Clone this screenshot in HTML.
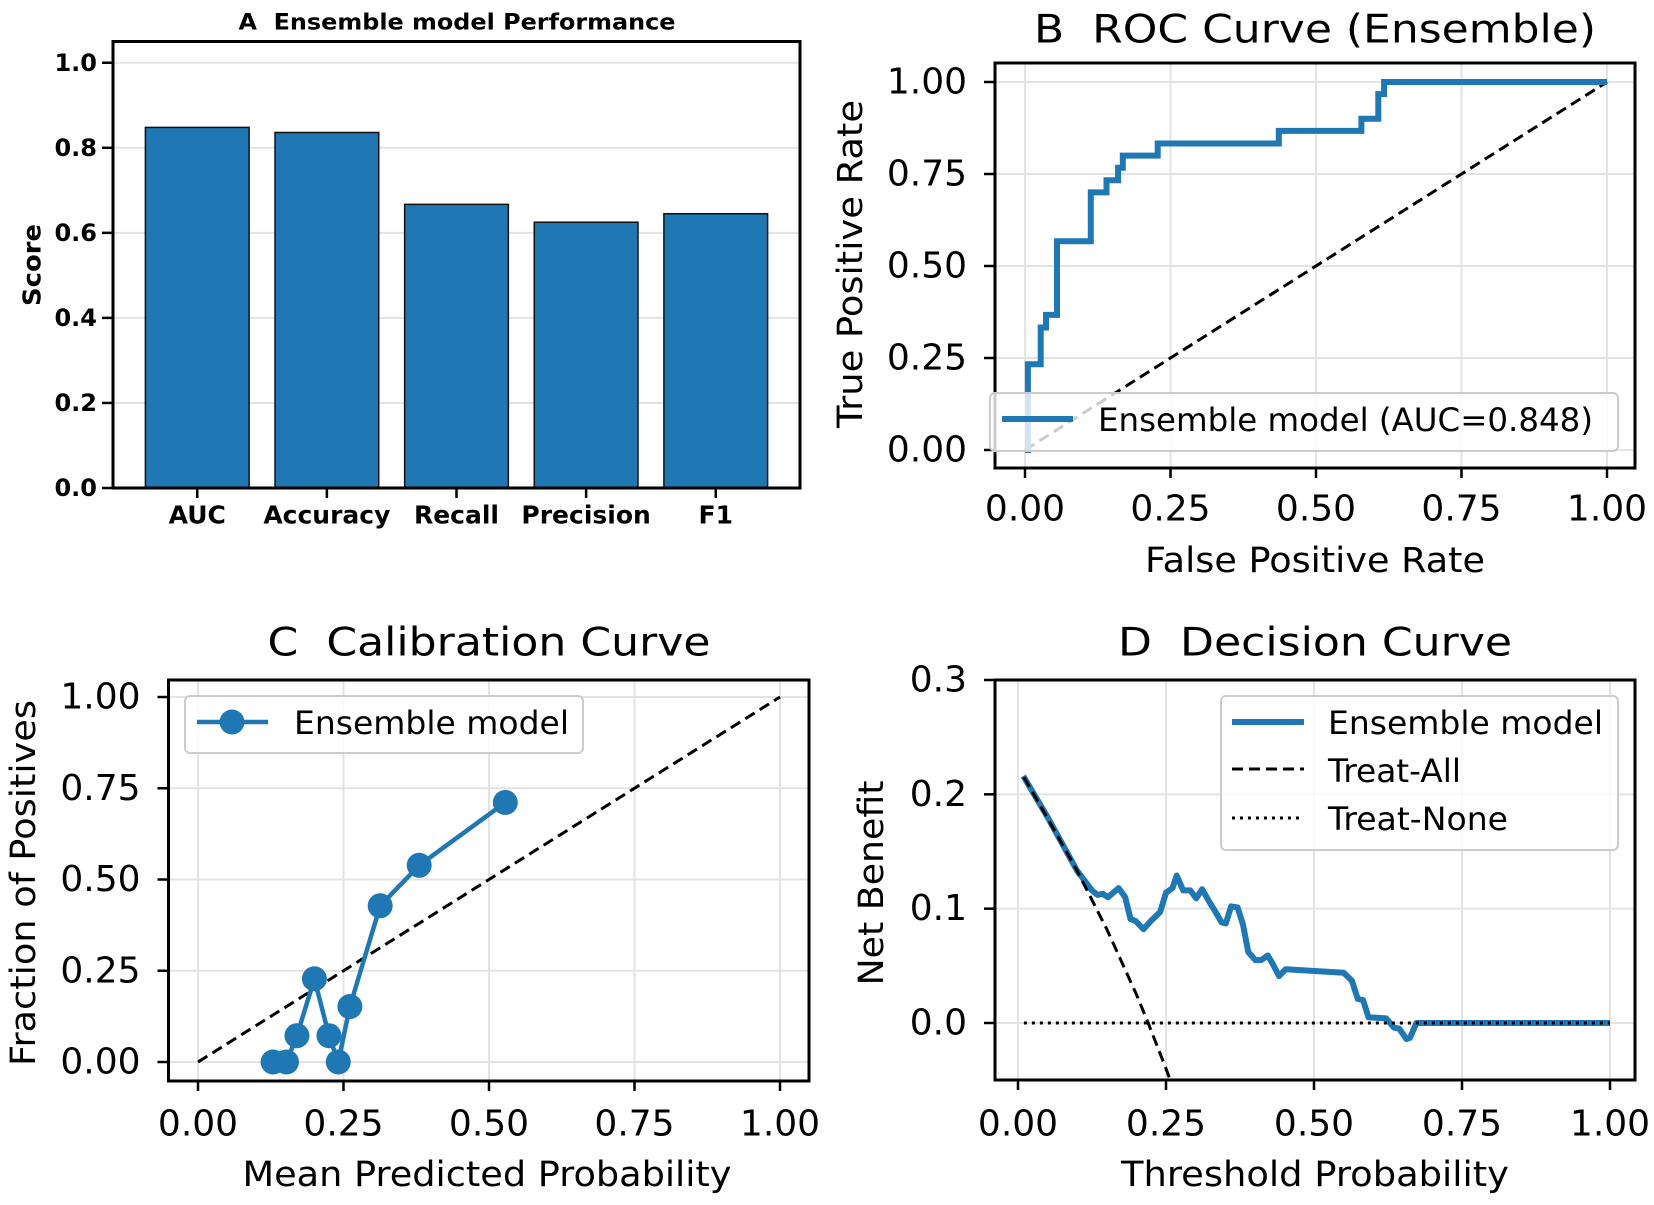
<!DOCTYPE html>
<html><head><meta charset="utf-8"><style>
html,body{margin:0;padding:0;background:#fff;}
svg{display:block;font-family:"DejaVu Sans","Liberation Sans",sans-serif;}
text{white-space:pre;}
</style></head><body>
<svg id="fig" width="1654" height="1205" viewBox="0 0 1654 1205" xmlns="http://www.w3.org/2000/svg"></svg>
<script>
// ---- Panel A data ----
const barCats = ["AUC","Accuracy","Recall","Precision","F1"];
const barVals = [0.848,0.836,0.667,0.625,0.645];
const aTicks = [0.0,0.2,0.4,0.6,0.8,1.0];
// ---- Panel B data ----
const rocFpr = [0,0.005,0.005,0.027,0.027,0.036,0.036,0.055,0.055,0.113,0.113,0.14,0.14,0.16,0.16,0.168,0.168,0.228,0.228,0.436,0.436,0.578,0.578,0.607,0.607,0.617,0.617,1.0];
const rocTpr = [0,0,0.233,0.233,0.333,0.333,0.367,0.367,0.567,0.567,0.70,0.70,0.733,0.733,0.767,0.767,0.80,0.80,0.833,0.833,0.867,0.867,0.90,0.90,0.967,0.967,1.0,1.0];
const unitTicks = [0,0.25,0.5,0.75,1.0];
const unitTickLabels = ["0.00","0.25","0.50","0.75","1.00"];
// ---- Panel C data ----
const calX = [0.129,0.152,0.170,0.200,0.225,0.241,0.261,0.313,0.380,0.528];
const calY = [0,0,0.072,0.228,0.072,0,0.152,0.428,0.539,0.711];
// ---- Panel D data ----
const dcaT = [0.009,0.05,0.10,0.125,0.134,0.143,0.152,0.170,0.181,0.190,0.199,0.212,0.224,0.240,0.250,0.261,0.268,0.279,0.291,0.301,0.311,0.322,0.335,0.344,0.351,0.360,0.371,0.380,0.389,0.401,0.411,0.422,0.431,0.441,0.452,0.550,0.564,0.574,0.583,0.592,0.622,0.635,0.644,0.656,0.662,0.673,1.0];
const dcaNB = [0.216,0.180,0.133,0.116,0.112,0.113,0.110,0.118,0.110,0.091,0.089,0.082,0.089,0.097,0.114,0.118,0.129,0.116,0.116,0.109,0.117,0.107,0.096,0.088,0.087,0.102,0.101,0.086,0.062,0.055,0.055,0.059,0.051,0.041,0.047,0.044,0.037,0.021,0.020,0.005,0.004,-0.004,-0.005,-0.014,-0.013,0,0];
const allT = [0.01,0.05,0.10,0.15,0.20,0.22,0.25,0.26];
const allNB = [0.215,0.179,0.133,0.082,0.025,0.0,-0.040,-0.054];
const noneT = [0.01,1.0];
const noneNB = [0,0];
const dTicksY = [0,0.1,0.2,0.3];
const dTickLabelsY = ["0.0","0.1","0.2","0.3"];

const NS="http://www.w3.org/2000/svg";
const svg=document.getElementById('fig');
function mk(tag,attrs,parent){const e=document.createElementNS(NS,tag);for(const k in attrs)e.setAttribute(k,attrs[k]);(parent||svg).appendChild(e);return e;}
function txt(s,attrs,parent,len){const e=mk('text',attrs,parent);e.textContent=s;if(len){e.setAttribute('textLength',len);e.setAttribute('lengthAdjust','spacingAndGlyphs');}return e;}
function lin(d0,d1,r0,r1){return v=>r0+(v-d0)/(d1-d0)*(r1-r0);}
const BLUE="#1f77b4", GRID="#e3e3e3";
const TFS=36;

function grid(g,sx,sy,box,xt,yt){
  xt.forEach(v=>{const l=mk('line',{x1:sx(v),x2:sx(v),y1:box.t,y2:box.b,stroke:GRID,'stroke-width':2},g);
    
    });
  yt.forEach(v=>{const l=mk('line',{x1:box.l,x2:box.r,y1:sy(v),y2:sy(v),stroke:GRID,'stroke-width':2},g);
    
    });
}
function frame(g,box){
  const r=mk('rect',{x:box.l,y:box.t,width:box.r-box.l,height:box.b-box.t,fill:'none',stroke:'#000','stroke-width':3},g);
  
  
}
function xticks(g,sx,box,vals,labels,fs,bold,ly){
  vals.forEach((v,i)=>{
    const t=mk('line',{x1:sx(v),x2:sx(v),y1:box.b,y2:box.b+10,stroke:'#000','stroke-width':2.5},g);
    
    
    const l=txt(labels[i],{x:sx(v),y:ly,'text-anchor':'middle','dominant-baseline':'central','font-size':fs,'font-weight':bold?'bold':'normal'},g);
    
    
  });
}
function yticks(g,sy,box,vals,labels,fs,bold,gap){
  vals.forEach((v,i)=>{
    const t=mk('line',{x1:box.l-11,x2:box.l,y1:sy(v),y2:sy(v),stroke:'#000','stroke-width':2.5},g);
    
    
    const l=txt(labels[i],{x:box.l-gap,y:sy(v),'text-anchor':'end','dominant-baseline':'central','font-size':fs,'font-weight':bold?'bold':'normal'},g);
    
    
  });
}
function path(xs,ys,sx,sy){return xs.map((x,i)=>(i?'L':'M')+sx(x).toFixed(1)+','+sy(ys[i]).toFixed(1)).join(' ');}

// ================= Panel A =================
(function(){
  const g=mk('g',{});
  
  
  const box={l:113,r:800,t:41.5,b:488};
  const sy=lin(0,1.05,box.b,box.t);
  const sx=lin(-0.65,4.65,box.l,box.r);
  aTicks.forEach(v=>{const l=mk('line',{x1:box.l,x2:box.r,y1:sy(v),y2:sy(v),stroke:GRID,'stroke-width':2},g);
    
    });
  barCats.forEach((c,i)=>{
    const x0=sx(i-0.4),x1=sx(i+0.4);
    const b=mk('rect',{x:x0,y:sy(barVals[i]),width:x1-x0,height:sy(0)-sy(barVals[i]),fill:BLUE,stroke:'#111','stroke-width':1.5},g);
    
    
  });
  frame(g,box);
  xticks(g,sx,box,barCats.map((c,i)=>i),barCats,25,true,515);
  yticks(g,sy,box,aTicks,aTicks.map(v=>v.toFixed(1)),24,true,16);
  const t=txt('A  Ensemble model Performance',{x:457,y:23,'text-anchor':'middle','dominant-baseline':'central','font-size':22,'font-weight':'bold'},g,437);
  
  
  const yl=txt('Score',{x:0,y:0,'text-anchor':'middle','dominant-baseline':'central','font-size':25,'font-weight':'bold',transform:'translate(32,265) rotate(-90)'},g,82);
  
  
})();

// ================= Panel B =================
(function(){
  const g=mk('g',{});
  
  
  const box={l:995,r:1635,t:63,b:468};
  const sx=lin(0,1,1025,1607), sy=lin(0,1,450,82);
  grid(g,sx,sy,box,unitTicks,unitTicks);
  const d=mk('line',{x1:sx(0),y1:sy(0),x2:sx(1),y2:sy(1),stroke:'#000','stroke-width':3,'stroke-dasharray':'11,6'},g);
  
  
  const p=mk('path',{d:path(rocFpr,rocTpr,sx,sy),fill:'none',stroke:BLUE,'stroke-width':6,'stroke-linejoin':'miter'},g);
  
  
  frame(g,box);
  xticks(g,sx,box,unitTicks,unitTickLabels,TFS,false,509);
  yticks(g,sy,box,unitTicks,unitTickLabels,TFS,false,28);
  const lg=mk('g',{},g);
  
  
  const lr=mk('rect',{x:990,y:393,width:628,height:58,rx:5,fill:'#fff','fill-opacity':0.8,stroke:'#cccccc','stroke-width':2},lg);
  
  
  const lh=mk('line',{x1:1002,x2:1073,y1:419,y2:419,stroke:BLUE,'stroke-width':6},lg);
  
  
  const lt=txt('Ensemble model (AUC=0.848)',{x:1098,y:420,'dominant-baseline':'central','font-size':32},lg,495);
  
  
  const t=txt('B  ROC Curve (Ensemble)',{x:1315,y:30,'text-anchor':'middle','dominant-baseline':'central','font-size':39},g,562);
  
  
  const xl=txt('False Positive Rate',{x:1315,y:561,'text-anchor':'middle','dominant-baseline':'central','font-size':35},g,340);
  
  
  const yl=txt('True Positive Rate',{x:0,y:0,'text-anchor':'middle','dominant-baseline':'central','font-size':35,transform:'translate(851,264) rotate(-90)'},g,328);
  
  
})();

// ================= Panel C =================
(function(){
  const g=mk('g',{});
  
  
  const box={l:168.5,r:809,t:680,b:1081};
  const sx=lin(0,1,198,780), sy=lin(0,1,1062,697);
  grid(g,sx,sy,box,unitTicks,unitTicks);
  const d=mk('line',{x1:sx(0),y1:sy(0),x2:sx(1),y2:sy(1),stroke:'#000','stroke-width':3,'stroke-dasharray':'11,6'},g);
  
  
  const p=mk('path',{d:path(calX,calY,sx,sy),fill:'none',stroke:BLUE,'stroke-width':4.5},g);
  
  
  calX.forEach((x,i)=>{
    const c=mk('circle',{cx:sx(x),cy:sy(calY[i]),r:12.5,fill:BLUE},g);
    
    
  });
  frame(g,box);
  xticks(g,sx,box,unitTicks,unitTickLabels,TFS,false,1124);
  yticks(g,sy,box,unitTicks,unitTickLabels,TFS,false,28);
  const lg=mk('g',{},g);
  
  
  const lr=mk('rect',{x:185,y:696,width:398,height:57,rx:5,fill:'#fff','fill-opacity':0.8,stroke:'#cccccc','stroke-width':2},lg);
  
  
  const lh=mk('line',{x1:197,x2:268,y1:722,y2:722,stroke:BLUE,'stroke-width':4.5},lg);
  
  
  const lm=mk('circle',{cx:232,cy:722,r:12.5,fill:BLUE},lg);
  
  
  const lt=txt('Ensemble model',{x:294,y:723,'dominant-baseline':'central','font-size':32},lg,275);
  
  
  const t=txt('C  Calibration Curve',{x:489,y:643,'text-anchor':'middle','dominant-baseline':'central','font-size':39},g,443);
  
  
  const xl=txt('Mean Predicted Probability',{x:487,y:1175,'text-anchor':'middle','dominant-baseline':'central','font-size':35},g,489);
  
  
  const yl=txt('Fraction of Positives',{x:0,y:0,'text-anchor':'middle','dominant-baseline':'central','font-size':35,transform:'translate(24,883) rotate(-90)'},g,366);
  
  
})();

// ================= Panel D =================
(function(){
  const g=mk('g',{});
  
  
  const box={l:995,r:1635,t:680,b:1080};
  const sx=lin(0,1,1018,1610), sy=lin(0,0.3,1023,680);
  const cp=mk('clipPath',{id:'clipD'},svg);
  mk('rect',{x:box.l,y:box.t,width:box.r-box.l,height:box.b-box.t},cp);
  grid(g,sx,sy,box,unitTicks,dTicksY);
  const cg=mk('g',{'clip-path':'url(#clipD)'},g);
  const m=mk('path',{d:path(dcaT,dcaNB,sx,sy),fill:'none',stroke:BLUE,'stroke-width':6,'stroke-linejoin':'round'},cg);
  
  
  const a=mk('path',{d:path(allT,allNB,sx,sy),fill:'none',stroke:'#000','stroke-width':3,'stroke-dasharray':'11,6'},cg);
  
  
  const n=mk('path',{d:path(noneT,noneNB,sx,sy),fill:'none',stroke:'#000','stroke-width':3,'stroke-dasharray':'3,5'},cg);
  
  
  frame(g,box);
  xticks(g,sx,box,unitTicks,unitTickLabels,TFS,false,1124);
  yticks(g,sy,box,dTicksY,dTickLabelsY,TFS,false,28);
  const lg=mk('g',{},g);
  
  
  const lr=mk('rect',{x:1221,y:696,width:397,height:154,rx:5,fill:'#fff','fill-opacity':0.8,stroke:'#cccccc','stroke-width':2},lg);
  
  
  const h1=mk('line',{x1:1232,x2:1304,y1:722,y2:722,stroke:BLUE,'stroke-width':6},lg);
  
  
  const t1=txt('Ensemble model',{x:1328,y:723,'dominant-baseline':'central','font-size':32},lg,275);
  
  
  const h2=mk('line',{x1:1232,x2:1304,y1:769,y2:769,stroke:'#000','stroke-width':3,'stroke-dasharray':'11,6'},lg);
  
  
  const t2=txt('Treat-All',{x:1328,y:771,'dominant-baseline':'central','font-size':32},lg,133);
  
  
  const h3=mk('line',{x1:1232,x2:1304,y1:818,y2:818,stroke:'#000','stroke-width':3,'stroke-dasharray':'3,5'},lg);
  
  
  const t3=txt('Treat-None',{x:1328,y:819,'dominant-baseline':'central','font-size':32},lg,180);
  
  
  const t=txt('D  Decision Curve',{x:1315,y:643,'text-anchor':'middle','dominant-baseline':'central','font-size':39},g,394);
  
  
  const xl=txt('Threshold Probability',{x:1315,y:1175,'text-anchor':'middle','dominant-baseline':'central','font-size':35},g,388);
  
  
  const yl=txt('Net Benefit',{x:0,y:0,'text-anchor':'middle','dominant-baseline':'central','font-size':35,transform:'translate(872,883) rotate(-90)'},g,205);
  
  
})();
</script>
</body></html>
